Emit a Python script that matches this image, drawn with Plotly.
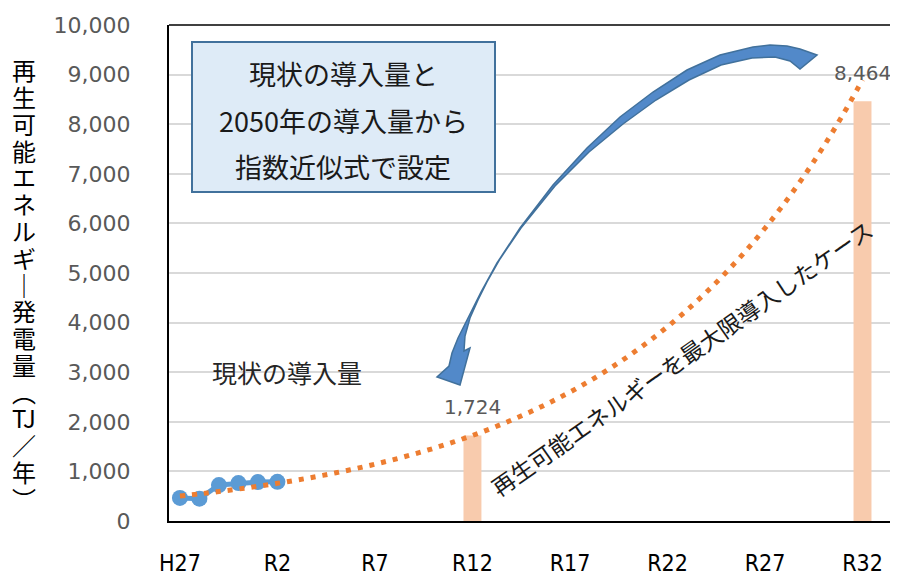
import plotly.graph_objects as go

# ---------------- data ----------------
actual_years = [2015, 2016, 2017, 2018, 2019, 2020]
actual_values = [465, 450, 725, 765, 785, 790]

trend_years = list(range(2015, 2051))
trend_values = [504, 547, 594, 645, 700, 760, 825, 895, 972, 1055,
                1145, 1243, 1349, 1464, 1589, 1725, 1873, 2033, 2206, 2395,
                2600, 2822, 3063, 3325, 3609, 3917, 4252, 4616, 5010, 5438,
                5903, 6407, 6955, 7549, 8194, 8894]

bar_years = [2030, 2050]
bar_values = [1724, 8464]

tick_years = [2015, 2020, 2025, 2030, 2035, 2040, 2045, 2050]
tick_labels = ["H27", "R2", "R7", "R12", "R17", "R22", "R27", "R32"]

y_title_rows = ["再", "生", "可", "能", "エ", "ネ", "ル", "ギ", "｜", "発", "電", "量",
                "︵", "TJ", "／", "年", "︶"]

box_lines = ["現状の導入量と", "2050年の導入量から", "指数近似式で設定"]
current_label = "現状の導入量"
case_label = "再生可能エネルギーを最大限導入したケース"

# ---------------- layout geometry ----------------
# page body has an 8px default margin; compensate so the plot lands where wanted
OFF = 8
W, H = 898 - OFF, 582 - OFF
L, R, T, B = 169, 898, 25, 521          # plot area in screen pixels
JP = "Noto Sans CJK JP"


def P(px, py):
    return (px - L) / (R - L), (B - py) / (B - T)


fig = go.Figure()

fig.add_trace(go.Bar(
    x=bar_years, y=bar_values, width=0.92,
    marker=dict(color="#F8CBAD", line=dict(width=0)),
    hoverinfo="skip", showlegend=False))

fig.add_trace(go.Scatter(
    x=actual_years, y=actual_values, mode="lines+markers",
    line=dict(color="#5B9BD5", width=5),
    marker=dict(color="#5B9BD5", size=16),
    hoverinfo="skip", showlegend=False))

fig.add_trace(go.Scatter(
    x=trend_years, y=trend_values, mode="lines",
    line=dict(color="#ED7D31", width=5, dash="5px,7px", shape="spline"),
    hoverinfo="skip", showlegend=False))

annotations = []
shapes = []

# data labels
for xv, yv in zip(bar_years, bar_values):
    annotations.append(dict(
        x=xv, y=yv, xref="x", yref="y", text=f"{yv:,}", showarrow=False,
        yshift=28, font=dict(family="DejaVu Sans", size=20, color="#595959")))

# y-axis title, stacked vertically
top_c, bot_c = 70, 498
n = len(y_title_rows)
for i, ch in enumerate(y_title_rows):
    py = top_c + (bot_c - top_c) * i / (n - 1)
    xp, yp = P(24, py)
    annotations.append(dict(
        x=xp, y=yp, xref="paper", yref="paper", text=ch, showarrow=False,
        xanchor="center", yanchor="middle",
        font=dict(family=JP, size=24, color="#000000")))

# explanation box
x0, y0 = P(192, 192)
x1, y1 = P(495, 42)
shapes.append(dict(type="rect", xref="paper", yref="paper",
                   x0=x0, y0=y0, x1=x1, y1=y1,
                   fillcolor="#DEEBF7", line=dict(color="#41719C", width=2)))
for line_txt, py in zip(box_lines, [73, 120, 167]):
    xp, yp = P(343, py)
    annotations.append(dict(
        x=xp, y=yp, xref="paper", yref="paper", text=line_txt, showarrow=False,
        xanchor="center", yanchor="middle",
        font=dict(family=JP, size=27, color="#1a1a1a")))

# current amount label
xp, yp = P(287, 372)
annotations.append(dict(
    x=xp, y=yp, xref="paper", yref="paper", text=current_label, showarrow=False,
    xanchor="center", yanchor="middle",
    font=dict(family=JP, size=25, color="#262626")))

# rotated case label
xp, yp = P(681, 358)
annotations.append(dict(
    x=xp, y=yp, xref="paper", yref="paper", text=case_label, showarrow=False,
    xanchor="center", yanchor="middle", textangle=-35,
    font=dict(family=JP, size=23, color="#1a1a1a")))

# curved block arrow (decoration)
arrow_px = [
    (817, 55), (800, 49), (787, 46), (770, 45), (753, 47), (720, 55), (687, 70),
    (653, 92), (620, 117), (587, 148), (553, 185), (520, 228), (497, 263),
    (481, 292), (468, 318), (458, 338), (452, 353), (449, 366),
    (437, 377), (460, 385), (470, 348), (464, 351),
    (465, 336), (470, 318), (478, 300), (487, 282), (500, 259), (521, 228),
    (555, 186), (589, 152), (623, 124), (656, 100), (689, 80), (721, 65),
    (752, 58), (775, 57), (790, 61), (800, 69)]
path = ""
for i, (px_, py_) in enumerate(arrow_px):
    a, b = P(px_, py_)
    path += ("M" if i == 0 else "L") + f"{a:.5f},{b:.5f} "
path += "Z"
shapes.append(dict(type="path", xref="paper", yref="paper", path=path,
                   fillcolor="#5289C9", line=dict(color="#41719C", width=1.5)))

# top frame line
shapes.append(dict(type="line", xref="paper", yref="paper",
                   x0=0, x1=1, y0=1, y1=1,
                   line=dict(color="#404040", width=2)))

fig.update_layout(
    width=W, height=H,
    margin=dict(l=L - OFF, r=(898 - R), t=T - OFF, b=582 - B, pad=0,
                autoexpand=False),
    paper_bgcolor="white", plot_bgcolor="white",
    showlegend=False, hovermode=False,
    annotations=annotations, shapes=shapes,
    xaxis=dict(
        range=[2014.44, 2051.82], tickmode="array",
        tickvals=tick_years, ticktext=tick_labels,
        showgrid=False, zeroline=False, automargin=False,
        showline=True, linecolor="#000000", linewidth=2,
        ticks="", ticklabelstandoff=20,
        tickfont=dict(family="Liberation Sans Narrow, DejaVu Sans Condensed, sans-serif",
                      size=23, color="#000000")),
    yaxis=dict(
        range=[0, 10000], dtick=1000, tickformat=",d",
        showgrid=True, gridcolor="#D9D9D9", gridwidth=2,
        zeroline=False, automargin=False,
        showline=True, linecolor="#000000", linewidth=2,
        ticks="", ticklabelstandoff=32,
        tickfont=dict(family="DejaVu Sans", size=22, color="#595959")),
)

fig.write_html("out.html", config={"displayModeBar": False})
